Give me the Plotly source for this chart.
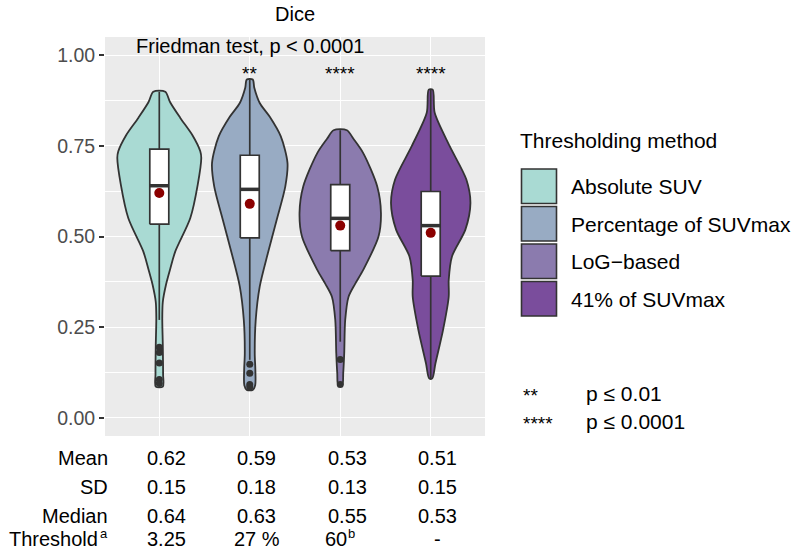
import plotly.graph_objects as go

# ---- data ---------------------------------------------------------------
methods = ["Absolute SUV", "Percentage of SUVmax", "LoG\u2212based", "41% of SUVmax"]
positions = [1, 2, 3, 4]

# violin outlines: Dice level and half-width (in category units) of the density
violin_levels = [
    [0.086, 0.12, 0.20, 0.274, 0.32, 0.367, 0.41, 0.459, 0.551, 0.643, 0.717, 0.735, 0.78, 0.827, 0.87, 0.899],
    [0.077, 0.09, 0.132, 0.178, 0.27, 0.362, 0.454, 0.546, 0.638, 0.703, 0.776, 0.83, 0.868, 0.91, 0.933],
    [0.09, 0.123, 0.178, 0.27, 0.334, 0.37, 0.408, 0.50, 0.565, 0.638, 0.73, 0.77, 0.793],
    [0.109, 0.15, 0.242, 0.334, 0.38, 0.445, 0.519, 0.592, 0.657, 0.749, 0.841, 0.905],
]
violin_halfwidth = [
    [0.039, 0.042, 0.039, 0.033, 0.039, 0.074, 0.12, 0.177, 0.343, 0.425, 0.464, 0.453, 0.365, 0.232, 0.12, 0.066],
    [0.033, 0.06, 0.062, 0.055, 0.066, 0.11, 0.20, 0.298, 0.393, 0.417, 0.343, 0.221, 0.11, 0.05, 0.033],
    [0.022, 0.033, 0.044, 0.055, 0.092, 0.166, 0.254, 0.423, 0.45, 0.409, 0.254, 0.144, 0.074],
    [0.017, 0.052, 0.136, 0.199, 0.199, 0.235, 0.383, 0.439, 0.394, 0.21, 0.044, 0.022],
]

# box-plot summary
q1 = [0.534, 0.496, 0.461, 0.391]
medians = [0.64, 0.63, 0.55, 0.53]
q3 = [0.741, 0.724, 0.643, 0.624]
whisker_low = [0.27, 0.16, 0.21, 0.109]
whisker_high = [0.899, 0.933, 0.793, 0.905]
outliers = [
    [0.195, 0.18, 0.151, 0.106, 0.095],
    [0.148, 0.123, 0.092, 0.085],
    [0.161, 0.092],
    [],
]
means = [0.62, 0.59, 0.53, 0.51]
sds = [0.15, 0.18, 0.13, 0.15]
thresholds = ["3.25", "27 %", "60", "-"]
threshold_notes = ["", "", "b", ""]
signif = ["", "**", "****", "****"]

# ---- styling ------------------------------------------------------------
fills = ["#A9DAD3", "#98ABC3", "#8B7BAE", "#7A4D9C"]
outline = "#333333"
FONT = "Liberation Sans, Arial, sans-serif"
W, H = 796, 551
L, R, T, B = 105, 485, 37, 436          # panel edges in pixels
YR = [-0.05, 1.05]
BOX_HALF = 0.105
COL_SHIFT = 7                           # table columns sit a little right of the violins


def px(xp):
    return (xp - L) / (R - L)


def py(yp):
    return (B - yp) / (B - T)


fig = go.Figure()

# violins
for i, c in enumerate(positions):
    lv = violin_levels[i]
    hw = violin_halfwidth[i]
    xs = [c - w for w in hw] + [c + w for w in reversed(hw)] + [c - hw[0]]
    ys = list(lv) + list(reversed(lv)) + [lv[0]]
    fig.add_trace(go.Scatter(
        x=xs, y=ys, mode="lines", fill="toself", fillcolor=fills[i],
        line=dict(color=outline, width=1.8, shape="spline", smoothing=0.8),
        hoverinfo="skip", showlegend=False))

# boxes: whiskers, white box, thick median, outliers
for i, c in enumerate(positions):
    fig.add_trace(go.Scatter(
        x=[c, c, None, c, c], y=[whisker_low[i], q1[i], None, q3[i], whisker_high[i]],
        mode="lines", line=dict(color=outline, width=1.7),
        hoverinfo="skip", showlegend=False))
    fig.add_trace(go.Scatter(
        x=[c - BOX_HALF, c + BOX_HALF, c + BOX_HALF, c - BOX_HALF, c - BOX_HALF],
        y=[q1[i], q1[i], q3[i], q3[i], q1[i]],
        mode="lines", fill="toself", fillcolor="white",
        line=dict(color=outline, width=1.7), hoverinfo="skip", showlegend=False))
    fig.add_trace(go.Scatter(
        x=[c - BOX_HALF, c + BOX_HALF], y=[medians[i], medians[i]], mode="lines",
        line=dict(color=outline, width=3.5), hoverinfo="skip", showlegend=False))
    if outliers[i]:
        fig.add_trace(go.Scatter(
            x=[c] * len(outliers[i]), y=outliers[i], mode="markers",
            marker=dict(color=outline, size=7), hoverinfo="skip", showlegend=False))

# group means
fig.add_trace(go.Scatter(
    x=positions, y=means, mode="markers",
    marker=dict(color="#8B0000", size=10), hoverinfo="skip", showlegend=False))

ann = []
# title and test annotation
ann.append(dict(text="Dice", x=0.5, xref="paper", y=py(14), yref="paper",
                showarrow=False, font=dict(size=20, color="black"), yanchor="middle"))
ann.append(dict(text="Friedman test, p < 0.0001", x=2, xref="x", y=1.024, yref="y",
                showarrow=False, font=dict(size=20, color="black"), yanchor="middle"))
for i, c in enumerate(positions):
    if signif[i]:
        ann.append(dict(text=signif[i], x=c, xref="x", y=py(73), yref="paper",
                        showarrow=False, font=dict(size=19, color="black"), yanchor="middle"))

# legend
ann.append(dict(text="Thresholding method", x=px(518), xref="paper", y=py(140), yref="paper",
                xanchor="left", yanchor="middle", showarrow=False,
                font=dict(size=21, color="black")))
shapes = []
key_top = [169, 206.5, 244, 281.5]
for i, m in enumerate(methods):
    shapes.append(dict(type="rect", xref="paper", yref="paper",
                       x0=px(521.5), x1=px(556.5), y0=py(key_top[i]), y1=py(key_top[i] + 34.5),
                       fillcolor=fills[i], line=dict(color=outline, width=1.6)))
    ann.append(dict(text=m, x=px(569), xref="paper", y=py(key_top[i] + 17.5), yref="paper",
                    xanchor="left", yanchor="middle", showarrow=False,
                    font=dict(size=21, color="black")))

# significance key
for sym, lab, yp in [("**", "p \u2264 0.01", 393), ("****", "p \u2264 0.0001", 421.5)]:
    ann.append(dict(text=sym, x=px(521), xref="paper", y=py(yp + 2), yref="paper",
                    xanchor="left", yanchor="middle", showarrow=False,
                    font=dict(size=19, color="black")))
    ann.append(dict(text=lab, x=px(584), xref="paper", y=py(yp), yref="paper",
                    xanchor="left", yanchor="middle", showarrow=False,
                    font=dict(size=21, color="black")))

# summary table under the panel
row_labels = ["Mean", "SD", "Median", "Threshold"]
row_values = [[f"{v:.2f}" for v in means], [f"{v:.2f}" for v in sds],
              [f"{v:.2f}" for v in medians], thresholds]
row_y = [458, 487, 515.5, 539]
label_right = [110, 110, 110, 100]
for r, lab in enumerate(row_labels):
    ann.append(dict(text=lab, x=px(label_right[r]), xref="paper", y=py(row_y[r]), yref="paper",
                    xanchor="right", yanchor="middle", showarrow=False,
                    font=dict(size=20, color="black")))
    for i, c in enumerate(positions):
        note = threshold_notes[i] if r == 3 else ""
        if note:
            ann.append(dict(text=row_values[r][i], x=c, xref="x", xshift=COL_SHIFT + 2,
                            y=py(row_y[r]), yref="paper", xanchor="right", yanchor="middle",
                            showarrow=False, font=dict(size=20, color="black")))
            ann.append(dict(text=note, x=c, xref="x", xshift=COL_SHIFT - 1,
                            y=py(row_y[r] - 6), yref="paper", xanchor="left", yanchor="middle",
                            showarrow=False, font=dict(size=13, color="black")))
        else:
            ann.append(dict(text=row_values[r][i], x=c, xref="x", xshift=COL_SHIFT,
                            y=py(row_y[r]), yref="paper", xanchor="center", yanchor="middle",
                            showarrow=False, font=dict(size=20, color="black")))
# footnote mark on the threshold row label
ann.append(dict(text="a", x=px(97.5), xref="paper", y=py(row_y[3] - 6), yref="paper",
                xanchor="left", yanchor="middle", showarrow=False,
                font=dict(size=13, color="black")))

fig.update_layout(
    width=W, height=H,
    margin=dict(l=L, r=W - R, t=T, b=H - B, pad=0),
    paper_bgcolor="white", plot_bgcolor="#EBEBEB",
    font=dict(family=FONT),
    showlegend=False,
    annotations=ann, shapes=shapes,
    xaxis=dict(range=[0.4, 4.6], tickvals=positions, showticklabels=False, ticks="",
               showgrid=True, gridcolor="white", gridwidth=1.3, zeroline=False,
               showline=False, fixedrange=True),
    yaxis=dict(range=YR, tickvals=[0, 0.25, 0.5, 0.75, 1.0],
               ticktext=["0.00", "0.25", "0.50", "0.75", "1.00"],
               ticks="outside", ticklen=5, tickwidth=1.6, tickcolor=outline,
               tickfont=dict(size=19.5, color="#4D4D4D"),
               showgrid=True, gridcolor="white", gridwidth=1.3, zeroline=False,
               showline=False, fixedrange=True,
               minor=dict(tickvals=[0.125, 0.375, 0.625, 0.875], showgrid=True,
                          gridcolor="white", gridwidth=0.6, ticks="")),
)

fig.write_html("out.html")
